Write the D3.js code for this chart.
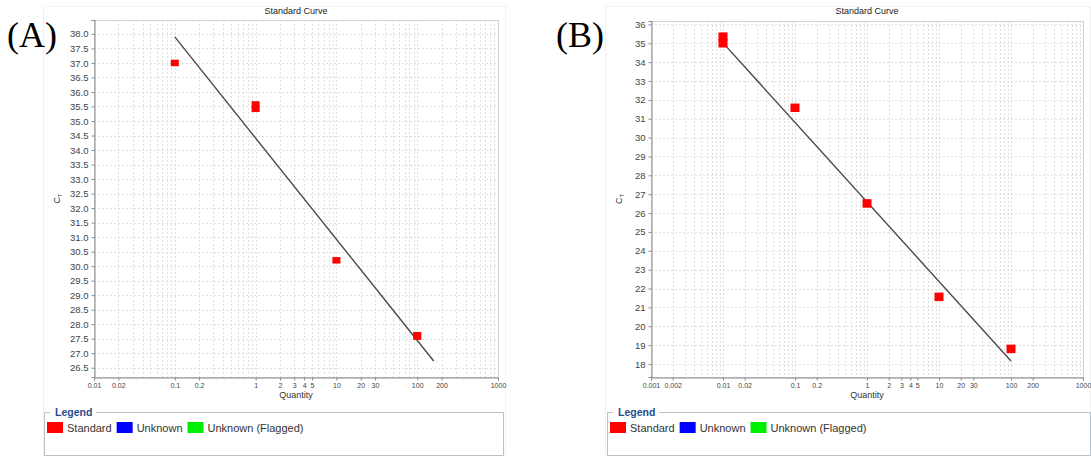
<!DOCTYPE html>
<html>
<head>
<meta charset="utf-8">
<script src="https://cdn.jsdelivr.net/npm/d3@7/dist/d3.min.js"></script>
<style>
  html, body { margin: 0; padding: 0; background: #fff; }
  svg { display: block; font-family: "Liberation Sans", Arial, sans-serif; }
</style>
</head>
<body>
<svg id="chart" width="1091" height="458"></svg>
<script>
// Standard curves: Ct versus log quantity, two runs
const panelAQuantity = [0.1, 1, 1, 10, 100, 100];
const panelACt = [37.0, 35.57, 35.42, 30.2, 27.62, 27.57];
const panelAFitQuantity = [0.1, 160];
const panelAFitCt = [37.9, 26.73];
const panelAYTicks = [26.5, 27.0, 27.5, 28.0, 28.5, 29.0, 29.5, 30.0, 30.5, 31.0, 31.5, 32.0,
  32.5, 33.0, 33.5, 34.0, 34.5, 35.0, 35.5, 36.0, 36.5, 37.0, 37.5, 38.0];
const panelAXTicks = [0.01, 0.02, 0.1, 0.2, 1, 2, 3, 4, 5, 10, 20, 30, 100, 200, 1000];

const panelBQuantity = [0.01, 0.01, 0.1, 1, 10, 100];
const panelBCt = [35.35, 35.0, 31.58, 26.51, 21.56, 18.8];
const panelBFitQuantity = [0.01, 100];
const panelBFitCt = [35.02, 18.16];
const panelBYTicks = [18, 19, 20, 21, 22, 23, 24, 25, 26, 27, 28, 29, 30, 31, 32, 33, 34, 35, 36];
const panelBXTicks = [0.001, 0.002, 0.01, 0.02, 0.1, 0.2, 1, 2, 3, 4, 5, 10, 20, 30, 100, 200, 1000];

const legendNames = ["Standard", "Unknown", "Unknown (Flagged)"];
const legendColors = ["#ff0000", "#0000ff", "#00ee00"];

const svg = d3.select("#chart");
svg.append("rect").attr("width", 1091).attr("height", 458).attr("fill", "#fff");

function drawPanel(cfg) {
  const g = svg.append("g");

  // faint frame round the whole chart panel
  g.append("rect")
    .attr("x", cfg.frame[0] + 0.5).attr("y", cfg.frame[1] + 0.5)
    .attr("width", cfg.frame[2]).attr("height", cfg.frame[3])
    .attr("fill", "none").attr("stroke", "#f2f2f2");

  const x = d3.scaleLog().domain(cfg.xDomain).range([cfg.left, cfg.right]);
  const y = d3.scaleLinear().domain(cfg.yDomain).range([cfg.bottom, cfg.top]);

  // gridlines
  const minor = [];
  const lo = Math.round(Math.log10(cfg.xDomain[0])), hi = Math.round(Math.log10(cfg.xDomain[1]));
  for (let e = lo; e < hi; e++) for (let m = 1; m <= 9; m++) minor.push(m * Math.pow(10, e));
  minor.push(cfg.xDomain[1]);

  g.append("g").selectAll("line").data(minor).join("line")
    .attr("x1", d => Math.round(x(d)) + 0.5).attr("x2", d => Math.round(x(d)) + 0.5)
    .attr("y1", cfg.top).attr("y2", cfg.bottom)
    .attr("stroke", "#e0e0e0").attr("stroke-dasharray", "2,2").attr("stroke-width", 1);

  g.append("g").selectAll("line").data(cfg.yTicks).join("line")
    .attr("x1", cfg.left).attr("x2", cfg.right)
    .attr("y1", d => Math.round(y(d)) + 0.5).attr("y2", d => Math.round(y(d)) + 0.5)
    .attr("stroke", "#e0e0e0").attr("stroke-dasharray", "2,2").attr("stroke-width", 1);

  // plot border
  g.append("rect")
    .attr("x", cfg.left + 0.5).attr("y", cfg.top + 0.5)
    .attr("width", cfg.right - cfg.left).attr("height", cfg.bottom - cfg.top)
    .attr("fill", "none").attr("stroke", "#d2d2d2");

  // axes
  const yAxis = g.append("g")
    .attr("transform", `translate(${cfg.left + 0.5},0)`)
    .call(d3.axisLeft(y).tickValues(cfg.yTicks).tickFormat(cfg.yFormat).tickSize(3).tickPadding(3));
  const xAxis = g.append("g")
    .attr("transform", `translate(0,${cfg.bottom + 0.5})`)
    .call(d3.axisBottom(x).tickValues(cfg.xTicks).tickFormat(d => String(d)).tickSize(3).tickPadding(3));

  [yAxis, xAxis].forEach(a => {
    a.select(".domain").attr("stroke", "#8a8a8a");
    a.selectAll(".tick line").attr("stroke", "#8a8a8a");
  });
  yAxis.selectAll(".tick text").attr("font-size", 9.5).attr("fill", "#444")
    .attr("font-family", "Liberation Sans, Arial, sans-serif");
  xAxis.selectAll(".tick text").attr("font-size", 7).attr("fill", "#444")
    .attr("font-family", "Liberation Sans, Arial, sans-serif");

  // title and axis labels
  const cx = (cfg.left + cfg.right) / 2;
  g.append("text").attr("x", cx).attr("y", 14).attr("text-anchor", "middle")
    .attr("font-size", 9).attr("fill", "#222").text("Standard Curve");
  g.append("text").attr("x", cx).attr("y", 398).attr("text-anchor", "middle")
    .attr("font-size", 9).attr("fill", "#333").text("Quantity");
  const yl = g.append("text")
    .attr("transform", `translate(${cfg.yLabelX},${(cfg.top + cfg.bottom) / 2}) rotate(-90)`)
    .attr("text-anchor", "middle").attr("font-size", 9).attr("fill", "#333");
  yl.append("tspan").text("C");
  yl.append("tspan").attr("font-size", 6).attr("dy", 2).text("T");

  // panel letter
  g.append("text").attr("x", cfg.letterX).attr("y", 47)
    .attr("font-family", "Liberation Serif, Times New Roman, serif")
    .attr("font-size", 36).attr("fill", "#000").text(cfg.letter);

  // fitted line
  const fit = cfg.fitQ.map((q, i) => [q, cfg.fitCt[i]]);
  g.append("path")
    .attr("d", d3.line().x(d => x(d[0])).y(d => y(d[1]))(fit))
    .attr("fill", "none").attr("stroke", "#4a4a4a").attr("stroke-width", 1.4);

  // standards
  const pts = cfg.q.map((q, i) => [q, cfg.ct[i]]);
  g.append("g").selectAll("rect").data(pts).join("rect")
    .attr("x", d => x(d[0]) - cfg.mw / 2).attr("y", d => y(d[1]) - cfg.mh / 2)
    .attr("width", cfg.mw).attr("height", cfg.mh)
    .attr("fill", legendColors[0]);

  // legend box (fieldset style)
  const L = cfg.legend;
  const lg = g.append("g");
  const titleW = 44;
  lg.append("path")
    .attr("d", `M${L.x + 6},${L.y + 0.5} H${L.x + 0.5} V${L.y + L.h + 0.5} H${L.x + L.w + 0.5} V${L.y + 0.5} H${L.x + 8 + titleW}`)
    .attr("fill", "none").attr("stroke", "#b8c0c8");
  lg.append("text").attr("x", L.x + 11).attr("y", L.y + 4)
    .attr("font-size", 10.5).attr("font-weight", "bold").attr("fill", "#1f4e8c").text("Legend");

  let lx = L.x + 3;
  legendNames.forEach((name, i) => {
    lg.append("rect").attr("x", lx).attr("y", L.y + 10).attr("width", 16).attr("height", 11)
      .attr("fill", legendColors[i]);
    const t = lg.append("text").attr("x", lx + 20).attr("y", L.y + 19.5)
      .attr("font-size", 11).attr("fill", "#333").text(name);
    lx += 20 + t.node().getComputedTextLength() + 5;
  });
}

drawPanel({
  letter: "(A)", letterX: 7,
  frame: [43, 6, 462, 449],
  left: 94, right: 498, top: 20, bottom: 377,
  xDomain: [0.01, 1000], yDomain: [26.18, 38.48],
  xTicks: panelAXTicks, yTicks: panelAYTicks, yFormat: d3.format(".1f"),
  yLabelX: 60,
  q: panelAQuantity, ct: panelACt, fitQ: panelAFitQuantity, fitCt: panelAFitCt,
  mw: 8, mh: 6.5,
  legend: { x: 44, y: 412, w: 459, h: 43 }
});

drawPanel({
  letter: "(B)", letterX: 556,
  frame: [605, 6, 485, 449],
  left: 651, right: 1083, top: 21, bottom: 377,
  xDomain: [0.001, 1000], yDomain: [17.31, 36.18],
  xTicks: panelBXTicks, yTicks: panelBYTicks, yFormat: d3.format("d"),
  yLabelX: 622,
  q: panelBQuantity, ct: panelBCt, fitQ: panelBFitQuantity, fitCt: panelBFitCt,
  mw: 9, mh: 8.5,
  legend: { x: 607, y: 412, w: 483, h: 43 }
});
</script>
</body>
</html>
